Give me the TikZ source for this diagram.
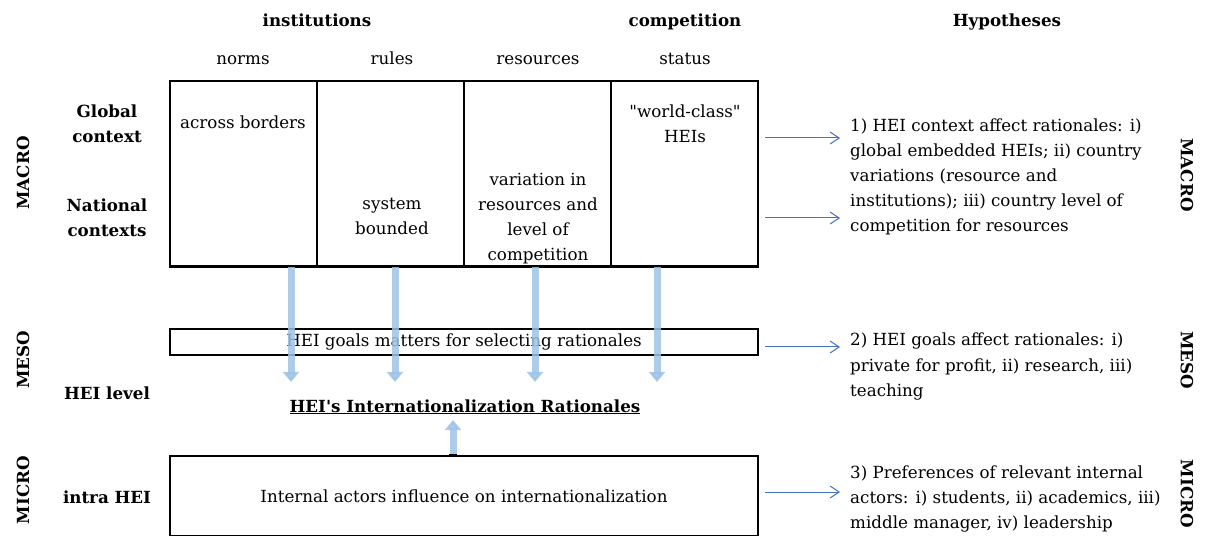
\documentclass[tikz,border=0pt]{standalone}
\usepackage{fontspec}
\setmainfont{DejaVu Serif}
\usetikzlibrary{arrows.meta}
\definecolor{paleblue}{RGB}{157,195,230}
\definecolor{lineblue}{RGB}{68,114,196}
\tikzset{
 tx/.style={font=\fontsize{16.7bp}{25bp}\selectfont,inner sep=0,anchor=base,align=center},
 bx/.style={tx,font=\bfseries\fontsize{16.7bp}{25bp}\selectfont},
 lv/.style={bx,anchor=center},
 cell/.style={draw,line width=1.5bp,minimum width=147bp,minimum height=185bp,inner sep=0},
 band/.style={draw,font=\fontsize{16.7bp}{25bp}\selectfont,minimum width=588bp,inner sep=0},
 down/.style={paleblue,opacity=0.85,line width=7bp,-{Triangle[width=16bp,length=10bp]}},
 hy/.style={lineblue,line width=1bp,shorten <=6bp,shorten >=10bp,-{Straight Barb[length=9bp,width=12bp]}},
}
\begin{document}
\begin{tikzpicture}[x=1bp,y=-1bp]
\useasboundingbox (0,0) rectangle (1211,536);
\node[bx](i) at (317,27){institutions};
\node[bx](c) at (685,27){competition};
\node[bx](h) at (1007,27){Hypotheses};
\node[tx](nh) at (243,65){norms};
\node[tx](rh) at (392,65){rules};
\node[tx](sh) at (538,65){resources};
\node[tx](wh) at (685,65){status};
\node[cell](n) at (243.5,173.5){};
\node[cell](r) at (390.5,173.5){};
\node[cell](s) at (537.5,173.5){};
\node[cell](w) at (684.5,173.5){};
\draw[line width=3bp](n.south west)--(w.south east);
\node[tx](nt) at (243,129){across borders};
\node[tx](rt) at (392,235){system\\bounded};
\node[tx](st) at (538,261){variation in\\resources and\\level of\\competition};
\node[tx](wt) at (685,143){\textquotedbl world-class\textquotedbl\\HEIs};
\node[bx](g) at (107,143){Global\\context};
\node[bx](nc) at (107,237){National\\contexts};
\node[bx](hl) at (107,399){HEI level};
\node[bx](ih) at (107,503){intra HEI};
\node[lv,rotate=90](ma) at (23,173){MACRO};
\node[lv,rotate=90](me) at (23,360){MESO};
\node[lv,rotate=90](mi) at (23,490){MICRO};
\node[lv,rotate=-90](ma2) at (1187,175){MACRO};
\node[lv,rotate=-90](me2) at (1187,360){MESO};
\node[lv,rotate=-90](mi2) at (1187,494){MICRO};
\node[band,line width=2.5bp,minimum height=26bp](gl) at (464,342){HEI goals matters for selecting rationales};
\node[bx](ra) at (465,412){\underline{HEI\textquotesingle s Internationalization Rationales}};
\node[band,line width=1.5bp,minimum height=80bp](ia) at (464,496){Internal actors influence on internationalization};
\coordinate(e1) at (291,382);
\coordinate(e2) at (395,382);
\coordinate(e3) at (535,382);
\coordinate(e4) at (657,382);
\coordinate(u) at (453,420);
\draw[down](n.south -| e1)--(e1);
\draw[down](r.south -| e2)--(e2);
\draw[down](s.south -| e3)--(e3);
\draw[down](w.south -| e4)--(e4);
\draw[down](ia.north -| u)--(u);
\draw[line width=3bp](ia.north -| u)++(-4,0)--++(8,0);
\node[tx,anchor=base west,align=left](h1) at (850,232){1) HEI context affect rationales: i)\\global embedded HEIs; ii) country\\variations (resource and\\institutions); iii) country level of\\competition for resources};
\node[tx,anchor=base west,align=left](h2) at (850,396){2) HEI goals affect rationales: i)\\private for profit, ii) research, iii)\\teaching};
\node[tx,anchor=base west,align=left](h3) at (850,528){3) Preferences of relevant internal\\actors: i) students, ii) academics, iii)\\middle manager, iv) leadership};
\draw[hy](w.east |- 0,138)--(h1.west |- 0,138);
\draw[hy](w.east |- 0,218)--(h1.west |- 0,218);
\draw[hy](gl.east |- 0,347)--(h2.west |- 0,347);
\draw[hy](ia.east |- 0,492)--(h3.west |- 0,492);
\end{tikzpicture}
\end{document}
